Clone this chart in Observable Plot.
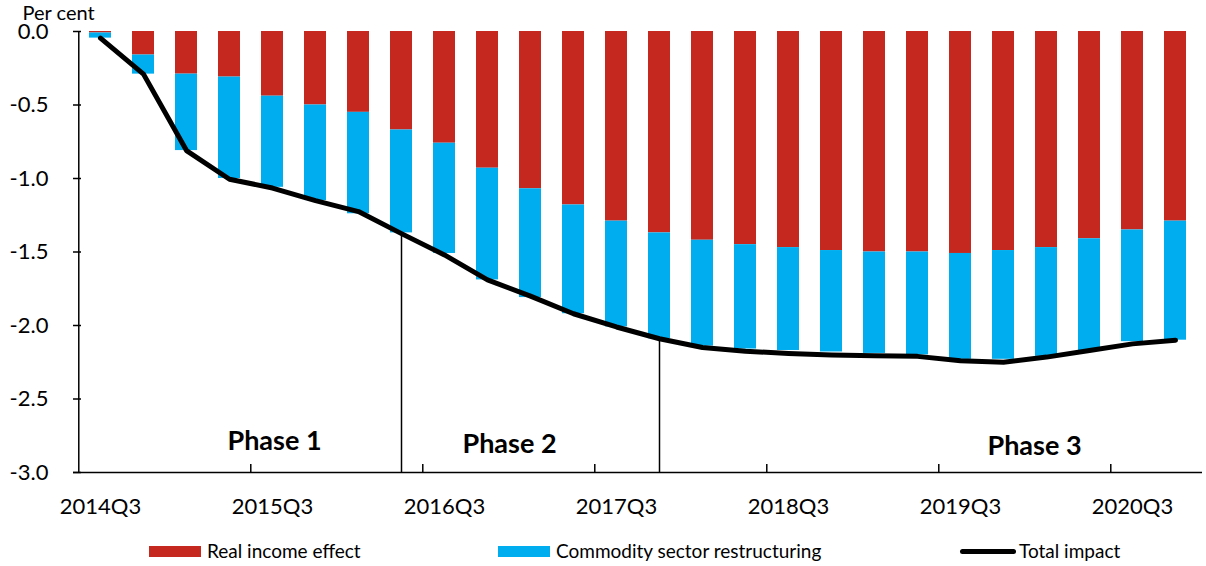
<!DOCTYPE html>
<html>
<head>
<meta charset="utf-8">
<script src="https://cdn.jsdelivr.net/npm/d3@7"></script>
<script src="https://cdn.jsdelivr.net/npm/@observablehq/plot@0.6"></script>
<style>
  body { margin: 0; background: #fff; font-family: Lato, sans-serif; }
  #legend { position: relative; width: 1206px; height: 36px; font-size: 19px; color: #000; }
  #legend .sw { position: absolute; }
  #legend .lb { position: absolute; top: 8px; line-height: 26px; white-space: nowrap; }
</style>
</head>
<body>
<div id="chart"></div>
<div id="legend"></div>
<script>
const quarters = ["2014Q3","2014Q4","2015Q1","2015Q2","2015Q3","2015Q4","2016Q1","2016Q2","2016Q3","2016Q4",
  "2017Q1","2017Q2","2017Q3","2017Q4","2018Q1","2018Q2","2018Q3","2018Q4","2019Q1","2019Q2","2019Q3","2019Q4",
  "2020Q1","2020Q2","2020Q3","2020Q4"];
const realIncome = [-0.01,-0.16,-0.29,-0.31,-0.44,-0.50,-0.55,-0.67,-0.76,-0.93,-1.07,-1.18,-1.29,-1.37,-1.42,-1.45,
  -1.47,-1.49,-1.50,-1.50,-1.51,-1.49,-1.47,-1.41,-1.35,-1.29];
const commodity = [-0.035,-0.13,-0.52,-0.69,-0.62,-0.65,-0.69,-0.70,-0.75,-0.76,-0.74,-0.74,-0.72,-0.72,-0.72,-0.71,
  -0.70,-0.69,-0.69,-0.70,-0.72,-0.74,-0.74,-0.76,-0.76,-0.81];
const totalImpact = [-0.045,-0.29,-0.81,-1.005,-1.065,-1.15,-1.225,-1.375,-1.52,-1.69,-1.80,-1.92,-2.01,-2.09,-2.15,
  -2.175,-2.19,-2.20,-2.205,-2.21,-2.24,-2.25,-2.215,-2.17,-2.125,-2.10];
const seriesNames = ["Real income effect","Commodity sector restructuring","Total impact"];
const seriesColors = ["#C4281F","#00AEEF","#000000"];
const xTickLabels = ["2014Q3","2015Q3","2016Q3","2017Q3","2018Q3","2019Q3","2020Q3"];
const yTicks = [0,-0.5,-1,-1.5,-2,-2.5,-3];
const yDomain = [-3, 0];
const phaseBreaks = ["2016Q2","2017Q4"];
const phaseLabels = ["Phase 1","Phase 2","Phase 3"];
const phaseAt = ["2015Q3","2016Q4","2020Q1"];
const phaseY = [-2.79,-2.81,-2.82];
const phaseDx = [2, 22, -12];
const yUnit = "Per cent";

const W = 1206, H = 530, mL = 73, mR = 4, mT = 31, mB = 58;
const step = (W - mL - mR) / quarters.length;

const rows = [];
quarters.forEach((q, i) => {
  rows.push({q, series: seriesNames[0], value: realIncome[i]});
  rows.push({q, series: seriesNames[1], value: commodity[i]});
});
const totals = quarters.map((q, i) => ({q, value: totalImpact[i]}));
const phases = phaseLabels.map((t, i) => ({t, q: phaseAt[i], y: phaseY[i], dx: phaseDx[i]}));
const breaks = phaseBreaks.map(q => ({q, top: totalImpact[quarters.indexOf(q)]}));

const chart = Plot.plot({
  width: W, height: H,
  marginLeft: mL, marginRight: mR, marginTop: mT, marginBottom: mB,
  style: {fontFamily: "Lato, sans-serif", fontSize: "22px", color: "#000", background: "#fff"},
  x: {type: "band", domain: quarters, paddingInner: 0.5, paddingOuter: 0.25, axis: null, label: null},
  y: {domain: yDomain, axis: null, label: null},
  color: {domain: seriesNames.slice(0, 2), range: seriesColors.slice(0, 2)},
  marks: [
    Plot.barY(rows, {x: "q", y: "value", fill: "series"}),
    Plot.ruleX(breaks, {x: "q", y1: "top", y2: yDomain[0], stroke: "#000", strokeWidth: 1.5}),
    Plot.line(totals, {x: "q", y: "value", stroke: seriesColors[2], strokeWidth: 5, strokeLinejoin: "round", strokeLinecap: "round"}),
    ...phases.map(p => Plot.text([p], {x: "q", y: "y", text: "t", dx: p.dx, fontWeight: "bold", fontSize: 27})),
    Plot.ruleY([yDomain[0]], {stroke: "#000", strokeWidth: 1.5}),
    Plot.ruleX([quarters[0]], {dx: -step / 2, y1: yDomain[0], y2: yDomain[1], stroke: "#000", strokeWidth: 1.5}),
    Plot.axisY({ticks: yTicks, tickSize: 0, tickPadding: 25, tickFormat: d => d.toFixed(1), fontSize: 22, label: null}),
    Plot.axisY({ticks: yTicks, tickSize: -8, tickFormat: () => "", strokeWidth: 1.5, label: null}),
    Plot.axisX({ticks: xTickLabels, tickSize: 0, tickPadding: 26, fontSize: 22, label: null}),
    Plot.axisX({ticks: xTickLabels.slice(1), tickSize: -8, dx: -step / 2, tickFormat: () => "", strokeWidth: 1.5, label: null}),
    Plot.text([yUnit], {frameAnchor: "top-left", dx: -51, dy: -18, textAnchor: "start", lineAnchor: "middle", fontSize: 20})
  ]
});
document.getElementById("chart").appendChild(chart);

// legend
const legend = document.getElementById("legend");
const items = [
  {name: seriesNames[0], color: seriesColors[0], kind: "bar", left: 149},
  {name: seriesNames[1], color: seriesColors[1], kind: "bar", left: 498},
  {name: seriesNames[2], color: seriesColors[2], kind: "line", left: 960}
];
items.forEach(it => {
  const sw = document.createElement("div");
  sw.className = "sw";
  sw.style.left = it.left + "px";
  sw.style.background = it.color;
  if (it.kind === "bar") { sw.style.width = "52px"; sw.style.height = "11px"; sw.style.top = "16px"; }
  else { sw.style.width = "56px"; sw.style.height = "5px"; sw.style.top = "19px"; sw.style.borderRadius = "3px"; }
  legend.appendChild(sw);
  const lb = document.createElement("div");
  lb.className = "lb";
  lb.style.left = (it.left + (it.kind === "bar" ? 58 : 59)) + "px";
  lb.textContent = it.name;
  legend.appendChild(lb);
});
</script>
</body>
</html>
